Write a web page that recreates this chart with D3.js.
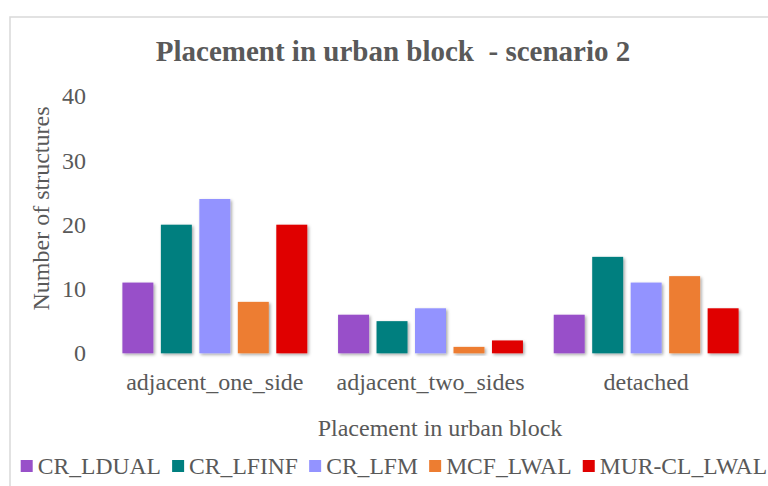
<!DOCTYPE html>
<html>
<head>
<meta charset="utf-8">
<script src="https://cdn.jsdelivr.net/npm/d3@7"></script>
<style>
  body { margin: 0; background: #fff; }
  svg text { font-family: "Liberation Serif", "Times New Roman", serif; fill: #595959; }
</style>
</head>
<body>
<svg id="chart" width="768" height="486"></svg>
<script>
// Data
const categories = ['adjacent_one_side', 'adjacent_two_sides', 'detached'];
const seriesNames = ['CR_LDUAL', 'CR_LFINF', 'CR_LFM', 'MCF_LWAL', 'MUR-CL_LWAL'];
const seriesColors = ['#9850c9', '#007f7f', '#9393ff', '#ed7d31', '#e00000'];
const CR_LDUAL = [11, 6, 6];
const CR_LFINF = [20, 5, 15];
const CR_LFM = [24, 7, 11];
const MCF_LWAL = [8, 1, 12];
const MUR_CL_LWAL = [20, 2, 7];
const yTicks = [0, 10, 20, 30, 40];

const seriesValues = [CR_LDUAL, CR_LFINF, CR_LFM, MCF_LWAL, MUR_CL_LWAL];

const svg = d3.select('#chart');

// Shadow used on bars and gridlines
const defs = svg.append('defs');
defs.append('filter')
    .attr('id', 'shadow')
    .attr('x', '-20%').attr('y', '-20%')
    .attr('width', '150%').attr('height', '150%')
    .append('feDropShadow')
    .attr('dx', 1.5).attr('dy', 1.5)
    .attr('stdDeviation', 1.5)
    .attr('flood-color', '#000')
    .attr('flood-opacity', 0.35);

// Chart area border (cropped at right and bottom)
svg.append('rect')
    .attr('x', 10).attr('y', 17)
    .attr('width', 800).attr('height', 520)
    .attr('fill', 'none')
    .attr('stroke', '#d9d9d9')
    .attr('stroke-width', 1.5);

const plot = { left: 107, right: 754, top: 96.1, bottom: 353.3 };

const x0 = d3.scaleBand()
    .domain(categories)
    .range([plot.left, plot.right]);

const x1 = d3.scaleBand()
    .domain(seriesNames)
    .range([0, x0.bandwidth()])
    .paddingInner(0.195)
    .paddingOuter(0.4);

const y = d3.scaleLinear()
    .domain([0, 40])
    .range([plot.bottom, plot.top]);

// Gridlines
const yAxis = svg.append('g')
    .attr('transform', `translate(${plot.left},0)`)
    .call(d3.axisLeft(y)
        .tickValues(yTicks)
        .tickSize(-(plot.right - plot.left))
        .tickPadding(21));
yAxis.select('.domain').remove();
yAxis.selectAll('.tick line')
    .attr('stroke', '#d9d9d9')
    .attr('stroke-width', 2)
    .attr('filter', 'url(#shadow)');
yAxis.selectAll('.tick text')
    .attr('font-size', 24)
    .attr('font-family', '"Liberation Serif", serif')
    .attr('fill', '#595959');

// Bars
const rows = categories.map((c, i) => ({
    category: c,
    values: seriesNames.map((s, j) => ({ series: s, value: seriesValues[j][i], color: seriesColors[j] }))
}));

const groups = svg.append('g')
    .selectAll('g')
    .data(rows)
    .enter().append('g')
    .attr('transform', d => `translate(${x0(d.category)},0)`);

groups.selectAll('rect')
    .data(d => d.values)
    .enter().append('rect')
    .attr('x', d => x1(d.series))
    .attr('y', d => y(d.value))
    .attr('width', x1.bandwidth())
    .attr('height', d => y(0) - y(d.value))
    .attr('fill', d => d.color)
    .attr('filter', 'url(#shadow)');

// Category labels
const xAxis = svg.append('g')
    .attr('transform', `translate(0,${plot.bottom})`)
    .call(d3.axisBottom(x0).tickSize(0).tickPadding(20));
xAxis.select('.domain').remove();
xAxis.selectAll('.tick text')
    .attr('font-size', 24)
    .attr('font-family', '"Liberation Serif", serif')
    .attr('fill', '#595959');

// Title
svg.append('text')
    .attr('x', 393)
    .attr('y', 61)
    .attr('text-anchor', 'middle')
    .attr('font-size', 29)
    .attr('font-weight', 'bold')
    .style('white-space', 'pre')
    .text('Placement in urban block  - scenario 2');

// Axis titles
svg.append('text')
    .attr('x', 440)
    .attr('y', 436)
    .attr('text-anchor', 'middle')
    .attr('font-size', 24)
    .text('Placement in urban block');

svg.append('text')
    .attr('transform', 'translate(49,208.5) rotate(-90)')
    .attr('text-anchor', 'middle')
    .attr('font-size', 24)
    .text('Number of structures');

// Legend
const legend = svg.append('g').attr('transform', 'translate(20.7,466)');
let lx = 0;
seriesNames.forEach((name, i) => {
    const item = legend.append('g').attr('transform', `translate(${lx},0)`);
    item.append('rect')
        .attr('x', 0).attr('y', -6)
        .attr('width', 12).attr('height', 12)
        .attr('fill', seriesColors[i]);
    const t = item.append('text')
        .attr('x', 17)
        .attr('y', 8)
        .attr('font-size', 23.6)
        .text(name);
    lx += 17 + t.node().getComputedTextLength() + 11.2;
});
</script>
</body>
</html>
